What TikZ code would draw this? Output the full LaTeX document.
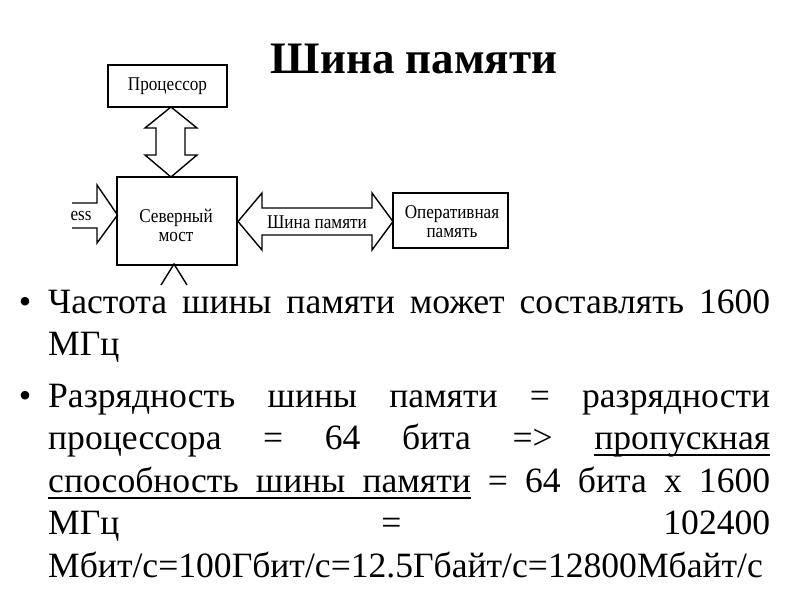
\documentclass[tikz,border=0pt]{standalone}
\usepackage{fontspec}
\setmainfont{Liberation Serif}
\newfontfamily\diagfont[FakeStretch=0.88]{Liberation Serif}
\newcommand\myul[1]{\setbox0\hbox{#1}\rlap{\vrule height -4.5pt depth 6.5pt width \wd0}\box0}
\newcommand\myulgap{\leaders\hrule height -4.5pt depth 6.5pt\hfill}
\begin{document}
\begin{tikzpicture}[x=1pt,y=-1pt,
  box/.style={draw, line width=1.4pt, inner sep=0pt},
  blk/.style={draw, line width=1.4pt, line join=miter},
  lbl/.style={font=\diagfont\fontsize{19.5}{19}\selectfont, align=center, inner sep=0pt},
  body/.style={font=\fontsize{35.6}{42}\selectfont, anchor=base west, inner sep=0pt},
  bul/.style={font=\fontsize{35.6}{42}\selectfont, anchor=base, inner sep=0pt}]
\useasboundingbox (0,0) rectangle (800,600);
\fill[white] (0,0) rectangle (800,600);
% title
\node[font=\fontsize{45}{54}\selectfont\bfseries, anchor=base, inner sep=0pt] (title) at (414,73) {Шина памяти};
% boxes
\node[box, lbl, minimum width=119pt, minimum height=42pt] (cpu) at (167.5,86) {Процессор};
\node[box, minimum width=120pt, minimum height=88pt] (nb) at (177,221) {};
\node[lbl] (nbtxt) at (176,225) {Северный\\мост};
\node[box, minimum width=115pt, minimum height=55pt] (ram) at (450.5,220.5) {};
\node[lbl] (ramtxt) at (452,222) {Оперативная\\память};
% vertical double arrow cpu <-> nb
\coordinate (vt) at (171,107);
\coordinate (vb) at (171,177);
\draw[blk] (vt) -- ++(26,21) -- ++(-12,0) -- ++(0,27) -- ++(12,0) -- (vb)
  -- ++(-26,-22) -- ++(11,0) -- ++(0,-27) -- ++(-11,0) -- cycle;
% horizontal double arrow nb <-> ram
\coordinate (hl) at (238,221.5);
\coordinate (hr) at (393,221.5);
\draw[blk] (hl) -- ++(24,-28.5) -- ++(0,15) -- ++(110,0) -- ++(0,-15) -- (hr)
  -- ++(-21,28.5) -- ++(0,-15) -- ++(-110,0) -- ++(0,15) -- cycle;
\node[lbl] (bus) at (317,222) {Шина памяти};
% left incoming arrow
\coordinate (lin1) at (72,203);
\coordinate (lin2) at (72,228);
\coordinate (lt) at (117.5,215);
\draw[blk] (lin1) -- (97,203) -- (97,185) -- (lt) -- (97,243) -- (97,228) -- (lin2);
\node[lbl] (ess) at (81,216) {ess};
% bottom arrow (cut)
\coordinate (bl) at (161,285);
\coordinate (bt) at (174,264);
\coordinate (br) at (187,285);
\draw[blk] (bl) -- (bt) -- (br);
% bullet text
\node[bul] (b1) at (25,313) {•};
\node[body] (l1) at (48,313) {\hbox to 722pt{Частота\hfill шины\hfill памяти\hfill может\hfill составлять\hfill 1600}};
\node[body] (l2) at (48,355) {МГц};
\node[bul] (b2) at (25,407) {•};
\node[body] (l3) at (48,407) {\hbox to 722pt{Разрядность\hfill шины\hfill памяти\hfill =\hfill разрядности}};
\node[body] (l4) at (48,449.5) {\hbox to 722pt{процессора\hfill =\hfill 64\hfill бита\hfill =>\hfill \myul{пропускная}}};
\node[body] (l5) at (48,492) {\hbox to 722pt{\myul{способность}\myulgap\myul{шины}\myulgap\myul{памяти}\hfill =\hfill 64\hfill бита\hfill x\hfill 1600}};
\node[body] (l6) at (48,534.5) {\hbox to 722pt{МГц\hfill =\hfill 102400}};
\node[body] (l7) at (48,577) {Мбит/с=100Гбит/с=12.5Гбайт/с=12800Мбайт/с};
\end{tikzpicture}
\end{document}
